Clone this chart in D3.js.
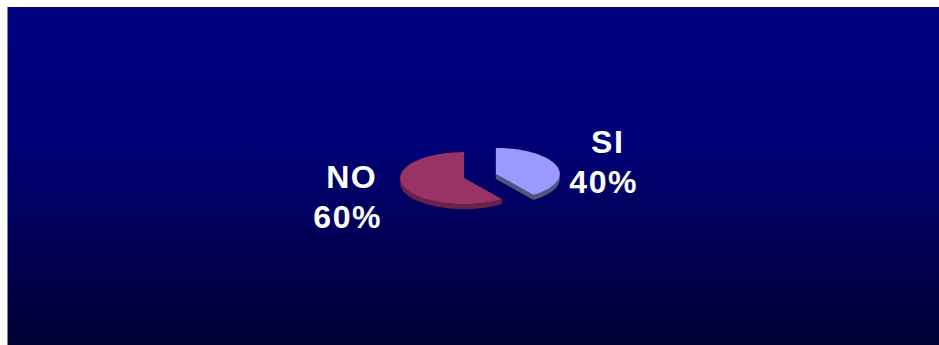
<!DOCTYPE html>
<html>
<head>
<meta charset="utf-8">
<script src="https://cdn.jsdelivr.net/npm/d3@7"></script>
<style>
  html, body { margin: 0; padding: 0; background: #ffffff; }
  svg { display: block; }
</style>
</head>
<body>
<svg id="chart" width="939" height="345"></svg>
<script>
const categories = ["SI", "NO"];
const values = [40, 60];
const percentLabels = ["40%", "60%"];
const topColors = ["#9999ff", "#993366"];
const sideColors = ["#55557c", "#6a2246"];

const W = 939, H = 345;
const svg = d3.select("#chart");

const defs = svg.append("defs");
const grad = defs.append("linearGradient").attr("id", "bg").attr("x1", 0).attr("y1", 0).attr("x2", 0).attr("y2", 1);
grad.append("stop").attr("offset", "0%").attr("stop-color", "#000080");
grad.append("stop").attr("offset", "40%").attr("stop-color", "#000077");
grad.append("stop").attr("offset", "100%").attr("stop-color", "#000033");

svg.append("rect").attr("x", 7).attr("y", 7).attr("width", W - 7).attr("height", H - 7).attr("fill", "url(#bg)");
svg.append("line").attr("x1", 7.5).attr("x2", 7.5).attr("y1", 7).attr("y2", H).attr("stroke", "#8080b0").attr("stroke-width", 1);

const cx = 480, cy = 176, rx = 64, ry = 26, depth = 5, explode = 0.26;

const pie = d3.pie().sort(null).value(d => d)(values);

function pt(c, a, dy) {
  return [c[0] + rx * Math.sin(a), c[1] - ry * Math.cos(a) + (dy || 0)];
}
function arcPts(c, a0, a1, dy) {
  const n = Math.max(2, Math.ceil(Math.abs(a1 - a0) / 0.03));
  const s = d3.scaleLinear().domain([0, n]).range([a0, a1]);
  return d3.range(n + 1).map(i => pt(c, s(i), dy));
}
const line = d3.line();

const slices = pie.map((p, i) => {
  const mid = (p.startAngle + p.endAngle) / 2;
  const c = [cx + Math.sin(mid) * explode * rx, cy - Math.cos(mid) * explode * ry];
  return { p, i, c };
});

const g = svg.append("g");

// side walls
slices.forEach(({ p, i, c }) => {
  const a0 = Math.max(p.startAngle, Math.PI / 2);
  const a1 = Math.min(p.endAngle, 3 * Math.PI / 2);
  if (a1 > a0) {
    const top = arcPts(c, a0, a1, 0);
    const bot = arcPts(c, a1, a0, depth);
    g.append("path").attr("d", line(top.concat(bot)) + "Z").attr("fill", sideColors[i]);
  }
  const e = p.endAngle;
  if (Math.cos(e + Math.PI / 2) < 0 && e < 2 * Math.PI - 1e-6) {
    const pe = pt(c, e, 0), pb = pt(c, e, depth);
    g.append("path").attr("d", line([c, pe, pb, [c[0], c[1] + depth]]) + "Z").attr("fill", sideColors[i]);
  }
  const s = p.startAngle;
  if (Math.cos(s - Math.PI / 2) < 0 && s > 1e-6) {
    const ps = pt(c, s, 0), pb = pt(c, s, depth);
    g.append("path").attr("d", line([c, ps, pb, [c[0], c[1] + depth]]) + "Z").attr("fill", sideColors[i]);
  }
});

// top faces
slices.forEach(({ p, i, c }) => {
  const pts = [c].concat(arcPts(c, p.startAngle, p.endAngle, 0));
  g.append("path").attr("d", line(pts) + "Z").attr("fill", topColors[i]);
});

// labels
const labelPos = [
  { x: 607, y1: 153, x2: 603, y2: 193 },
  { x: 351, y1: 188, x2: 347, y2: 228 }
];
categories.forEach((cat, i) => {
  const lp = labelPos[i];
  [[cat, lp.x, lp.y1], [percentLabels[i], lp.x2, lp.y2]].forEach(([t, x, y]) => {
    svg.append("text")
      .attr("transform", `translate(${x + 0.75},${y}) scale(1.05,1)`)
      .attr("text-anchor", "middle")
      .attr("font-family", "'Liberation Sans', Arial, sans-serif")
      .attr("font-weight", "bold")
      .attr("font-size", 30.5)
      .attr("letter-spacing", 1.5)
      .attr("fill", "#ffffff")
      .text(t);
  });
});
</script>
</body>
</html>
